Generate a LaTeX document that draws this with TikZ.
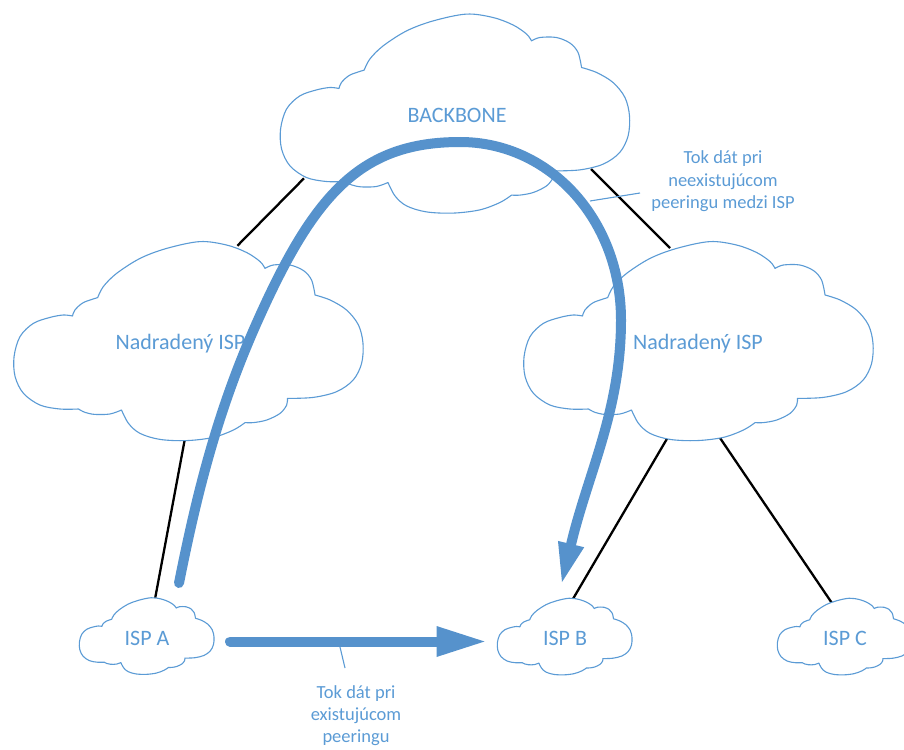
\documentclass[tikz,border=0pt]{standalone}
\usepackage{fontspec}
\setmainfont{Carlito}
\usetikzlibrary{arrows.meta}
\definecolor{ofblue}{RGB}{91,155,213}
\definecolor{flowblue}{RGB}{86,146,204}

% outline of a cloud in a unit box (y pointing down), one smooth piece per bump
\newcommand\cloudoutline{%
  plot[smooth,tension=0.55] coordinates {(0.187,0.840) (0.134,0.840) (0.077,0.820) (0.030,0.762) (0.006,0.678) (0.003,0.578) (0.020,0.478) (0.058,0.412) (0.106,0.382) (0.144,0.370) (0.170,0.375)}
  -- plot[smooth,tension=0.55] coordinates {(0.170,0.375) (0.177,0.345) (0.201,0.308) (0.242,0.283)}
  -- plot[smooth,tension=0.55] coordinates {(0.242,0.283) (0.258,0.228) (0.296,0.162) (0.363,0.087) (0.439,0.037) (0.534,0.003) (0.610,0.020) (0.668,0.058) (0.706,0.103) (0.720,0.137)}
  -- plot[smooth,tension=0.55] coordinates {(0.720,0.137) (0.744,0.120) (0.791,0.120) (0.830,0.148) (0.853,0.195) (0.863,0.270)}
  -- plot[smooth,tension=0.55] coordinates {(0.863,0.270) (0.906,0.295) (0.953,0.345) (0.987,0.420) (1.000,0.512) (0.996,0.612) (0.972,0.695) (0.925,0.753) (0.858,0.782) (0.784,0.787)}
  -- plot[smooth,tension=0.55] coordinates {(0.784,0.787) (0.782,0.820) (0.763,0.862) (0.725,0.895) (0.687,0.908) (0.663,0.908)}
  -- plot[smooth,tension=0.55] coordinates {(0.663,0.908) (0.630,0.945) (0.572,0.982) (0.496,0.998) (0.420,0.992) (0.363,0.962) (0.330,0.912) (0.310,0.845)}
  -- plot[smooth,tension=0.55] coordinates {(0.310,0.845) (0.277,0.865) (0.234,0.867) (0.206,0.857) (0.187,0.840)}
  -- cycle}

% #1,#2 top left corner, #3 width, #4 height, #5 code run in the unit box
\newcommand\drawcloud[5]{%
  \begin{scope}[shift={(#1,#2)}, x=#3pt, y={(0pt,-#4pt)}]
    \draw[cloudline] \cloudoutline;
    #5
  \end{scope}}

\begin{document}
\begin{tikzpicture}[x=1pt, y=-1pt,
  cloudline/.style={draw=ofblue, line width=1.1pt, fill=white, line join=round},
  link/.style={draw=black, line width=2.3pt},
  flow/.style={draw=flowblue, line width=10pt, line cap=round},
  leader/.style={draw=ofblue, line width=1.1pt},
  cloudtext/.style={text=ofblue, font=\fontsize{22}{26}\selectfont, inner sep=0pt, anchor=base},
  notetext/.style={text=ofblue, font=\fontsize{18.5}{22.3}\selectfont, align=center, inner sep=0pt, anchor=base}]
\useasboundingbox (0,0) rectangle (904,749);

% connection points on the clouds
\begin{scope}[shift={(279.5,13.5)}, x=350pt, y={(0pt,-200pt)}]
  \coordinate (bb-sw) at (0.070,0.824); \coordinate (bb-se) at (0.890,0.778);
\end{scope}
\begin{scope}[shift={(13,241)}, x=350pt, y={(0pt,-200pt)}]
  \coordinate (nl-n) at (0.641,0.024); \coordinate (nl-s) at (0.491,0.990);
\end{scope}
\begin{scope}[shift={(523,241)}, x=350pt, y={(0pt,-200pt)}]
  \coordinate (nr-n) at (0.420,0.035); \coordinate (nr-sw) at (0.412,0.987); \coordinate (nr-se) at (0.561,0.980);
\end{scope}
\begin{scope}[shift={(79,597.5)}, x=135pt, y={(0pt,-77pt)}]
  \coordinate (ia-n) at (0.563,0.020);
\end{scope}
\begin{scope}[shift={(497,598)}, x=135pt, y={(0pt,-77pt)}]
  \coordinate (ib-n) at (0.561,0.017);
\end{scope}
\begin{scope}[shift={(777,598)}, x=135pt, y={(0pt,-77pt)}]
  \coordinate (ic-n) at (0.405,0.061);
\end{scope}

% links of the hierarchy
\draw[link] (bb-sw) -- (nl-n);
\draw[link] (bb-se) -- (nr-n);
\draw[link] (nl-s) -- (ia-n);
\draw[link] (nr-sw) -- (ib-n);
\draw[link] (nr-se) -- (ic-n);

% clouds
\drawcloud{279.5}{13.5}{350}{200}{}
\drawcloud{13}{241}{350}{200}{}
\drawcloud{523}{241}{350}{200}{}
\drawcloud{79}{597.5}{135}{77}{}
\drawcloud{497}{598}{135}{77}{}
\drawcloud{777}{598}{135}{77}{}

\node[cloudtext] (bbText) at (457,122.7) {BACKBONE};
\node[cloudtext] (nlText) at (180.5,349) {Nadradený ISP};
\node[cloudtext] (nrText) at (698,349) {Nadradený ISP};
\node[cloudtext] (iaText) at (147,645) {ISP A};
\node[cloudtext] (ibText) at (565,645) {ISP B};
\node[cloudtext] (icText) at (845,645) {ISP C};

% notes (base = baseline of the last line) and their leaders
\node[notetext] (noteTop) at (723,208.3) {Tok dát pri\\neexistujúcom\\peeringu medzi ISP};
\node[notetext] (noteBottom) at (356,742.7) {Tok dát pri\\existujúcom\\peeringu};
\coordinate (ldTopA) at (590,201); \coordinate (ldTopB) at (640,193);
\coordinate (ldBotA) at (340,647); \coordinate (ldBotB) at (345,668);
\draw[leader] (ldTopA) -- (ldTopB);
\draw[leader] (ldBotA) -- (ldBotB);

% data flows
\coordinate (flowA) at (179,583);
\coordinate (flowB) at (562,582);
\draw[flow, -{Triangle[length=39pt,width=27pt,line width=0pt]}]
  (flowA) .. controls (197,493) and (217.5,410) .. (258,320)
          .. controls (314,195) and (360,142) .. (460,142)
          .. controls (550,142) and (621,220) .. (621,320)
          .. controls (621,410) and (588.4,472) .. (flowB);
\coordinate (flowC) at (230,641.5);
\coordinate (flowD) at (484.5,641.5);
\draw[flow, -{Triangle[length=48pt,width=31pt,line width=0pt]}] (flowC) -- (flowD);
\end{tikzpicture}
\end{document}
